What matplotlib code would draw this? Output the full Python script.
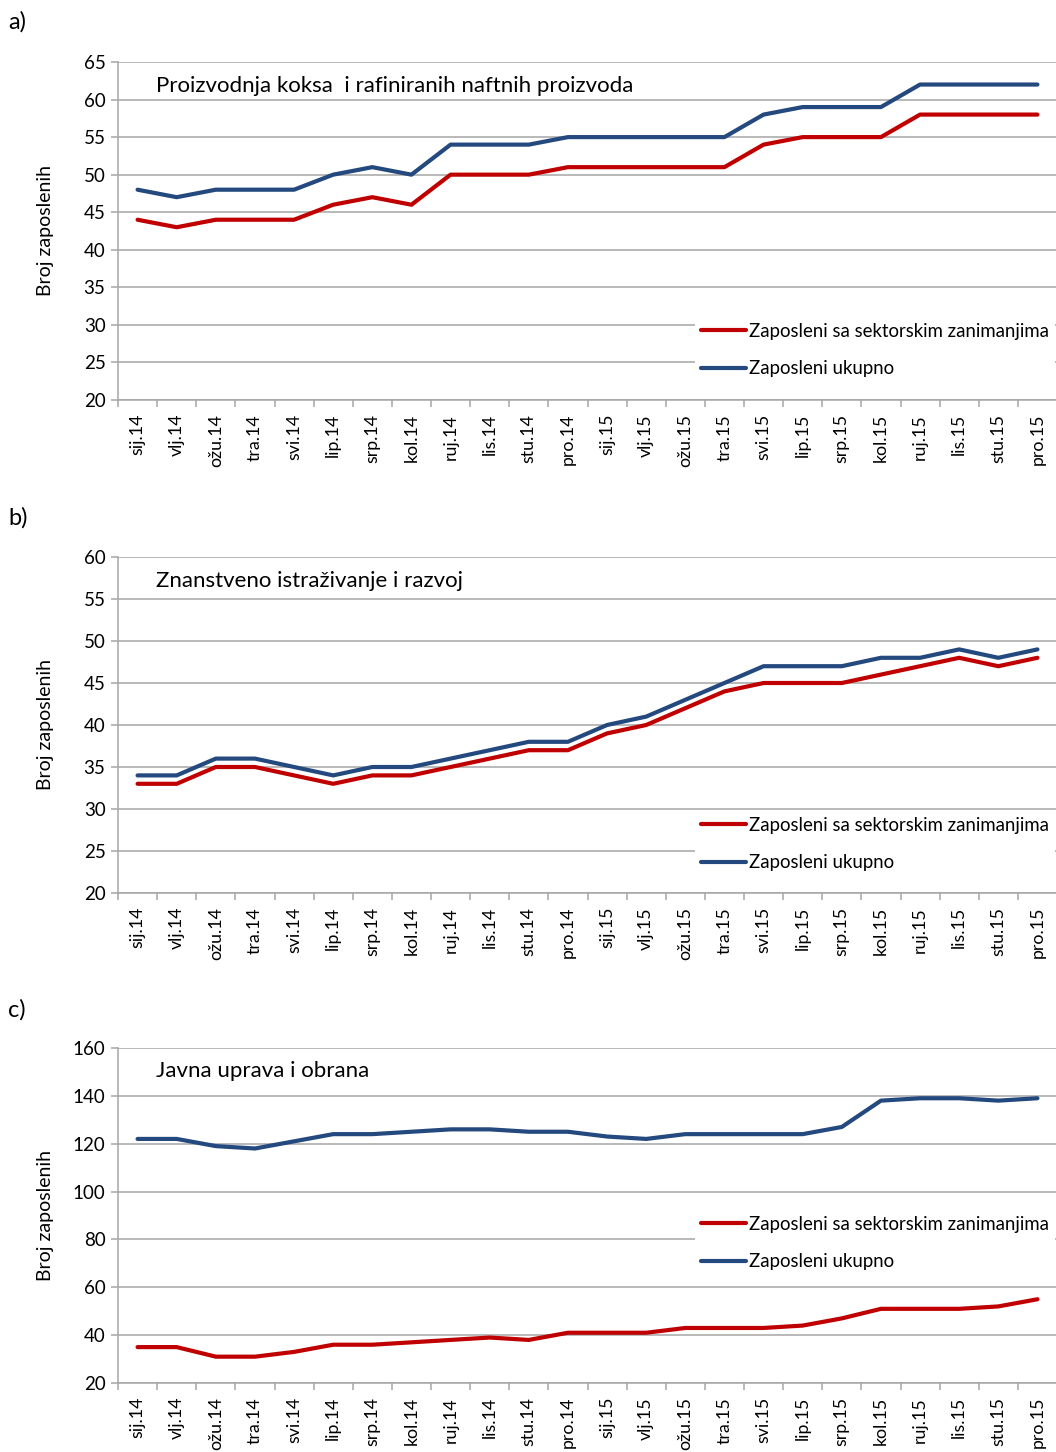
import matplotlib
matplotlib.use('Agg')
import matplotlib.pyplot as plt
import numpy as np

plt.rcParams['font.family'] = ['Lato', 'DejaVu Sans']

months = ['sij.14', 'vlj.14', 'ožu.14', 'tra.14', 'svi.14', 'lip.14', 'srp.14', 'kol.14',
          'ruj.14', 'lis.14', 'stu.14', 'pro.14', 'sij.15', 'vlj.15', 'ožu.15', 'tra.15',
          'svi.15', 'lip.15', 'srp.15', 'kol.15', 'ruj.15', 'lis.15', 'stu.15', 'pro.15']

# a) Proizvodnja koksa i rafiniranih naftnih proizvoda
a_sektor = [44, 43, 44, 44, 44, 46, 47, 46, 50, 50, 50, 51,
            51, 51, 51, 51, 54, 55, 55, 55, 58, 58, 58, 58]
a_ukupno = [48, 47, 48, 48, 48, 50, 51, 50, 54, 54, 54, 55,
            55, 55, 55, 55, 58, 59, 59, 59, 62, 62, 62, 62]

# b) Znanstveno istraživanje i razvoj
b_sektor = [33, 33, 35, 35, 34, 33, 34, 34, 35, 36, 37, 37,
            39, 40, 42, 44, 45, 45, 45, 46, 47, 48, 47, 48]
b_ukupno = [34, 34, 36, 36, 35, 34, 35, 35, 36, 37, 38, 38,
            40, 41, 43, 45, 47, 47, 47, 48, 48, 49, 48, 49]

# c) Javna uprava i obrana
c_sektor = [35, 35, 31, 31, 33, 36, 36, 37, 38, 39, 38, 41,
            41, 41, 43, 43, 43, 44, 47, 51, 51, 51, 52, 55]
c_ukupno = [122, 122, 119, 118, 121, 124, 124, 125, 126, 126, 125, 125,
            123, 122, 124, 124, 124, 124, 127, 138, 139, 139, 138, 139]

panels = [
    ('a)', 'Proizvodnja koksa  i rafiniranih naftnih proizvoda', a_sektor, a_ukupno, (20, 65, 5)),
    ('b)', 'Znanstveno istraživanje i razvoj', b_sektor, b_ukupno, (20, 60, 5)),
    ('c)', 'Javna uprava i obrana', c_sektor, c_ukupno, (20, 160, 20)),
]

red = '#C00000'
blue = '#24497E'
grid_c = '#A6A6A6'

W, H = 1056, 1452
fig = plt.figure(figsize=(W / 100, H / 100), dpi=100)

# pixel boxes: (top, bottom) of plot area, panel letter y, legend anchor y
boxes = [(62, 400, 22, 0.272), (557, 893, 518, 0.271), (1048, 1383, 1010, 0.543)]
left_px, right_px = 118, 1057

x = np.arange(len(months))

for (letter, title, sek, uk, (ymin, ymax, step)), (top, bot, ly, leg_y) in zip(panels, boxes):
    ax = fig.add_axes([left_px / W, 1 - bot / H, (right_px - left_px) / W, (bot - top) / H])
    ax.plot(x, sek, color=red, lw=3.0, solid_capstyle='round', solid_joinstyle='round',
            label='Zaposleni sa sektorskim zanimanjima', zorder=3)
    ax.plot(x, uk, color=blue, lw=3.0, solid_capstyle='round', solid_joinstyle='round',
            label='Zaposleni ukupno', zorder=3)

    ax.set_xlim(-0.5, len(months) - 0.5)
    ax.set_ylim(ymin, ymax)
    ax.set_yticks(np.arange(ymin, ymax + 1, step))
    ax.yaxis.grid(True, color=grid_c, lw=1.1)
    ax.set_axisbelow(True)

    ax.set_xticks(np.arange(-0.5, len(months), 1))
    ax.set_xticklabels([])
    ax.set_xticks(x, minor=True)
    ax.set_xticklabels(months, minor=True, rotation=90, fontsize=12.8)
    ax.tick_params(axis='x', which='major', length=5, color=grid_c, width=1.1)
    ax.tick_params(axis='x', which='minor', length=0, pad=10)
    ax.tick_params(axis='y', length=5, color=grid_c, width=1.1, labelsize=13.5, pad=4)

    for s in ['top', 'right']:
        ax.spines[s].set_visible(False)
    for s in ['left', 'bottom']:
        ax.spines[s].set_color(grid_c)
        ax.spines[s].set_linewidth(1.1)

    ax.set_ylabel('Broj zaposlenih', fontsize=14)
    ax.yaxis.set_label_coords((54 - left_px) / (right_px - left_px), 0.5)
    ax.text(0.041, 0.93, title, transform=ax.transAxes, fontsize=16, va='center', ha='left')

    ax.legend(loc='upper left', bbox_to_anchor=(0.605, leg_y), fontsize=13.4,
              frameon=True, fancybox=False, framealpha=1, edgecolor='none',
              handlelength=2.4, handletextpad=0.2, labelspacing=1.1, borderpad=0.3)

    fig.text(8 / W, 1 - ly / H, letter, fontsize=17, va='center', ha='left')

fig.savefig('out.png', dpi=100)
